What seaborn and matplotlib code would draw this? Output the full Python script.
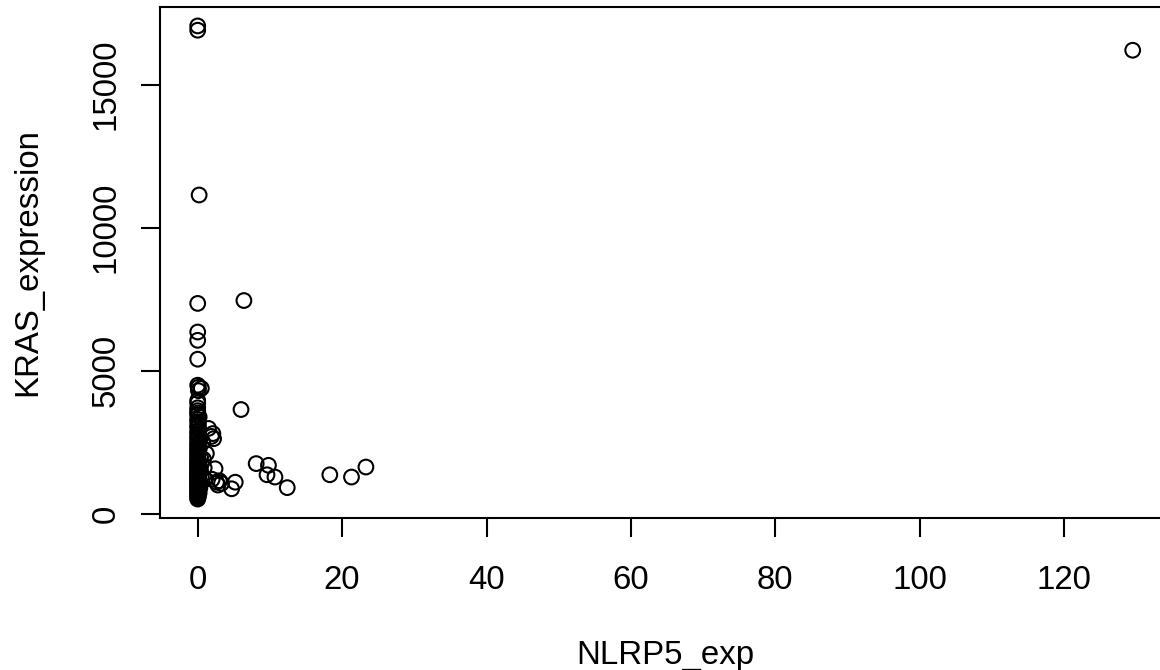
import numpy as np
import pandas as pd
import matplotlib
matplotlib.use("Agg")
import matplotlib.pyplot as plt
import seaborn as sns

# NLRP5 vs KRAS expression
nlrp5_exp = [
    # dense column near zero
    0, 0, 0.1, 0, 0, 0.2, 0, 0, 0.1, 0, 0.3, 0, 0, 0.1, 0, 0.4, 0, 0, 0.2, 0,
    0, 0.1, 0, 0.5, 0, 0, 0.2, 0, 0, 0.1, 0, 0.3, 0, 0, 0.1, 0, 0, 0.2, 0, 0,
    0.1, 0, 0.4, 0, 0, 0.1, 0, 0, 0.2, 0, 0, 0.1, 0, 0, 0.3, 0, 0, 0.1, 0, 0,
    0.2, 0, 0, 0.1, 0, 0, 0.2, 0, 0,
    # sparse upper part of the column
    0, 0, 0, 0, 0.1, 0.5, 0, 0.1, 0, 0, 0, 0, 0.2, 0, 0,
    # points just right of the column
    0.8, 1.2, 0.9, 1.0, 0.7, 1.5, 2.1, 2.2, 1.9, 2.4,
    2.6, 3.3, 5.2, 4.7, 2.0, 2.8, 3.0,
    # scattered points
    8.1, 9.8, 9.6, 10.7, 12.4, 18.3, 21.3, 23.3, 6.0, 6.4, 129.5,
]
kras_expression = [
    510, 560, 600, 640, 690, 720, 760, 800, 840, 870, 900, 930, 960, 990, 1020,
    1050, 1080, 1110, 1140, 1170, 1200, 1230, 1260, 1290, 1320, 1350, 1380,
    1410, 1440, 1470, 1500, 1530, 1560, 1600, 1640, 1680, 1720, 1760, 1800,
    1840, 1880, 1920, 1960, 2000, 2050, 2100, 2150, 2200, 2250, 2300, 2350,
    2400, 2450, 2500, 2560, 2620, 2680, 2740, 2800, 2870, 2940, 3010, 3080,
    3150, 3220, 3300, 3380, 3450, 3520,
    3600, 3700, 3870, 3960, 4300, 4380, 4490, 4420, 5400, 6060, 6350, 7350,
    11140, 16900, 17050,
    1900, 2100, 1600, 1200, 2500, 2980, 2800, 2620, 2700, 1570,
    1100, 1060, 1100, 870, 1200, 1000, 1150,
    1750, 1690, 1360, 1280, 910, 1360, 1280, 1630, 3640, 7450, 16200,
]

x_ticks = [0, 20, 40, 60, 80, 100, 120]
y_ticks = [0, 5000, 10000, 15000]

df = pd.DataFrame({"NLRP5_exp": nlrp5_exp, "KRAS_expression": kras_expression})

sns.set_style("white")
plt.rcParams["font.family"] = ["Liberation Sans", "DejaVu Sans"]
plt.rcParams["text.color"] = "black"
plt.rcParams["axes.labelcolor"] = "black"
plt.rcParams["xtick.color"] = "black"
plt.rcParams["ytick.color"] = "black"
fs = 23.8

W, H = 1160, 670
fig = plt.figure(figsize=(W / 100, H / 100), dpi=100)
# base R style plot region (right edge runs past the image)
ax = fig.add_axes([160.3 / W, (H - 518) / H, 1009.8 / W, 511 / H])

sns.scatterplot(data=df, x="NLRP5_exp", y="KRAS_expression", ax=ax,
                marker="o", s=112, facecolors="none", edgecolor="black",
                linewidth=1.5, legend=False)

# R pads the data range by 4% on each side
xr = max(nlrp5_exp) - min(nlrp5_exp)
yr = max(kras_expression) - min(kras_expression)
ax.set_xlim(min(nlrp5_exp) - 0.04 * xr, max(nlrp5_exp) + 0.04 * xr)
ax.set_ylim(min(kras_expression) - 0.04 * yr, max(kras_expression) + 0.04 * yr)

ax.set_xticks(x_ticks)
ax.set_yticks(y_ticks)
ax.set_xticklabels([str(v) for v in x_ticks], fontsize=fs)
ax.set_yticklabels([str(v) for v in y_ticks], fontsize=fs, rotation=90, va="center")
ax.tick_params(axis="both", direction="out", length=13.7, width=1.5,
               color="black", labelcolor="black", bottom=True, left=True)
ax.tick_params(axis="x", pad=20)
ax.tick_params(axis="y", pad=14)

for sp in ax.spines.values():
    sp.set_visible(True)
    sp.set_color("black")
    sp.set_linewidth(1.5)

ax.set_xlabel("NLRP5_exp", fontsize=fs, labelpad=32, color="black")
ax.set_ylabel("KRAS_expression", fontsize=fs, labelpad=34, color="black")

fig.savefig("out.png", dpi=100)
